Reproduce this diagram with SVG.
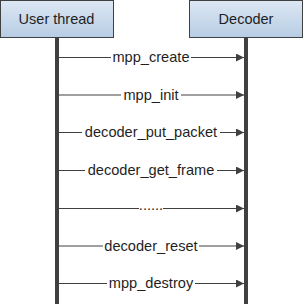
<svg xmlns="http://www.w3.org/2000/svg" width="303" height="305" viewBox="0 0 303 305">
<defs>
<linearGradient id="g" x1="0" y1="0" x2="0" y2="1">
<stop offset="0" stop-color="#dce7f3"/>
<stop offset="1" stop-color="#b7cde4"/>
</linearGradient>
<marker id="ah" markerWidth="8" markerHeight="8" refX="8" refY="4" orient="auto" markerUnits="userSpaceOnUse">
<path d="M0,0 L8,4 L0,8 Z" fill="#404040"/>
</marker>
<style>
.box{fill:url(#g);stroke:#404040;stroke-width:1}
.t{font-family:"Liberation Sans",Arial,sans-serif;font-size:14.5px;fill:#1f1f1f;text-anchor:middle}
.lab{font-family:"Liberation Sans",Arial,sans-serif;font-size:14.6px;fill:#1f1f1f;text-anchor:middle;dominant-baseline:central}
.life{stroke:#404040;stroke-width:4}
.msg{stroke:#404040;stroke-width:1;marker-end:url(#ah)}
.bg{fill:#ffffff}
</style>
</defs>
<rect width="303" height="305" fill="#ffffff"/>
<g id="lifelines">
<line class="life" x1="57" y1="38" x2="57" y2="304"/>
<line class="life" x1="246" y1="38" x2="246" y2="304"/>
</g>
<g id="user-thread">
<rect class="box" x="0.5" y="0.5" width="113" height="37"/>
<text class="t" x="56.5" y="24">User thread</text>
</g>
<g id="decoder">
<rect class="box" x="189.5" y="0.5" width="113" height="37"/>
<text class="t" x="246" y="24">Decoder</text>
</g>
<g id="connectors">
<line class="msg" x1="59" y1="57.5" x2="244" y2="57.5"/>
<rect class="bg" x="111" y="50" width="80" height="15"/>
<text class="lab" x="151" y="57">mpp_create</text>
<line class="msg" x1="59" y1="95" x2="244" y2="95"/>
<rect class="bg" x="121" y="88" width="60" height="15"/>
<text class="lab" x="151" y="94.5">mpp_init</text>
<line class="msg" x1="59" y1="132.5" x2="244" y2="132.5"/>
<rect class="bg" x="82" y="125" width="138" height="15"/>
<text class="lab" x="151" y="132">decoder_put_packet</text>
<line class="msg" x1="59" y1="170.5" x2="244" y2="170.5"/>
<rect class="bg" x="85" y="163" width="132" height="15"/>
<text class="lab" x="151" y="170">decoder_get_frame</text>
<line class="msg" x1="59" y1="208.5" x2="244" y2="208.5"/>
<rect class="bg" x="139" y="201" width="24" height="15"/>
<text class="lab" x="151" y="205">......</text>
<line class="msg" x1="59" y1="246" x2="244" y2="246"/>
<rect class="bg" x="103" y="238" width="96" height="15"/>
<text class="lab" x="151" y="245.5">decoder_reset</text>
<line class="msg" x1="59" y1="283.5" x2="244" y2="283.5"/>
<rect class="bg" x="107" y="276" width="88" height="15"/>
<text class="lab" x="151" y="283">mpp_destroy</text>
</g>
</svg>
